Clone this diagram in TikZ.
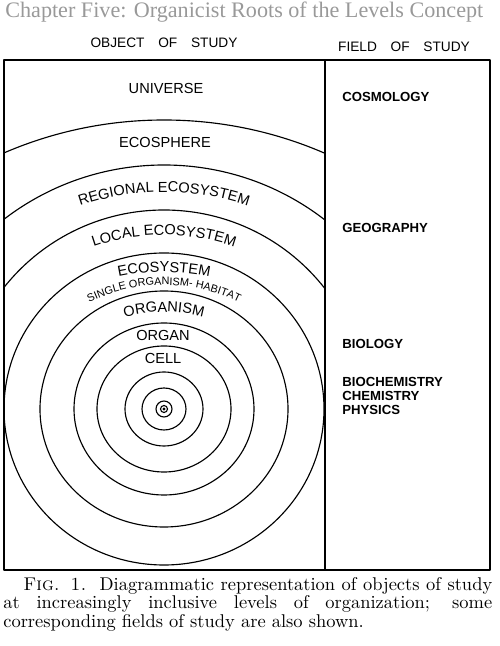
\documentclass[tikz,border=0pt]{standalone}
\usepackage{fontspec}
\setsansfont{Liberation Sans}
\newfontfamily\headfont{Liberation Serif}
\usetikzlibrary{decorations.text}
\newcommand{\lvlfont}{\fontsize{8.3}{9}\selectfont\sffamily}
\newcommand{\habfont}{\fontsize{6.2}{7}\selectfont\sffamily}

\begin{document}
\begin{tikzpicture}[x=0.02cm, y=0.02cm, line join=round,
  level/.style={font=\lvlfont, inner sep=0pt},
  colhead/.style={font=\fontsize{7.8}{8}\selectfont\sffamily, inner sep=0pt},
  field/.style={font=\fontsize{7.5}{8}\selectfont\sffamily\bfseries, anchor=west, align=left, inner sep=0pt},
  ring/.style={line width=0.65pt},
  frame/.style={line width=0.85pt}]
\useasboundingbox (0,0) rectangle (500,646);
% running head
\node[anchor=base west, inner sep=0pt, text=black!40, font=\headfont\fontsize{12.6}{14}\selectfont] (head) at (5,628) {Chapter Five: Organicist Roots of the Levels Concept};
\node[colhead] (objhead) at (164,603) {OBJECT\hspace{1em}OF\hspace{1em}STUDY};
\node[colhead] (fieldhead) at (404,599) {FIELD\hspace{1em}OF\hspace{1em}STUDY};
% frame
\draw[frame] (4,76) rectangle (490,586);
\draw[frame] (325,76) -- (325,586);
% rings
\coordinate (c) at (164,237);
\foreach \rx/\ry in {160/156,124/118,90/86,67/63,39/37,22/21}
  \draw[ring] (c) ellipse[x radius=\rx, y radius=\ry];
\draw[ring] (c) circle[radius=8];
\draw[ring] (c) circle[radius=3.5];
\fill (c) circle[radius=1.6];
\begin{scope}
\clip (4,237) rectangle (325,586);
\draw[ring] (164,122) circle[radius=404];
\draw[ring] (164,218) circle[radius=263];
\draw[ring] (164,232) circle[radius=204];
\end{scope}
% levels
\node[level] (universe) at (166,558) {UNIVERSE};
\node[level] (ecosphere) at (165,504) {ECOSPHERE};
\begin{scope}[shift={(164,194)}]
\path[decorate, decoration={text along path, text align=center, text={|\lvlfont|REGIONAL ECOSYSTEM}}]
  (112:260) arc[start angle=112, end angle=68, radius=260];
\end{scope}
\begin{scope}[shift={(164,196)}]
\path[decorate, decoration={text along path, text align=center, text={|\lvlfont|LOCAL ECOSYSTEM}}]
  (112:215) arc[start angle=112, end angle=68, radius=215];
\end{scope}
\begin{scope}[shift={(164,154)}]
\path[decorate, decoration={text along path, text align=center, text={|\lvlfont|ECOSYSTEM}}]
  (105:220) arc[start angle=105, end angle=75, radius=220];
\end{scope}
\begin{scope}[shift={(164,191)}]
\path[decorate, decoration={text along path, text align=center, text={|\habfont|SINGLE ORGANISM- HABITAT}}]
  (118:170) arc[start angle=118, end angle=62, radius=170];
\end{scope}
\begin{scope}[shift={(164,184)}]
\path[decorate, decoration={text along path, text align=center, text={|\lvlfont|ORGANISM}}]
  (108:150) arc[start angle=108, end angle=72, radius=150];
\end{scope}
\node[level] (organ) at (163,311) {ORGAN};
\node[level] (cell) at (163,288) {CELL};
% fields
\node[field] (cosmology) at (342,549) {COSMOLOGY};
\node[field] (geography) at (342,418) {GEOGRAPHY};
\node[field] (biology) at (342,302) {BIOLOGY};
\node[field] (physics) at (342,250) {BIOCHEMISTRY\\CHEMISTRY\\PHYSICS};
% caption
\node[anchor=north west, inner sep=0pt, text width=9.78cm, align=justify,
  font=\fontsize{10.5}{10.5}\selectfont\addfontfeature{LetterSpace=3}] (caption) at (3,69)
  {\hspace*{0.4cm}\textsc{Fig. 1.}\ \ Diagrammatic representation of objects of study\linebreak
   at increasingly inclusive levels of organization; some\linebreak
   corresponding fields of study are also shown.};
\end{tikzpicture}
\end{document}
